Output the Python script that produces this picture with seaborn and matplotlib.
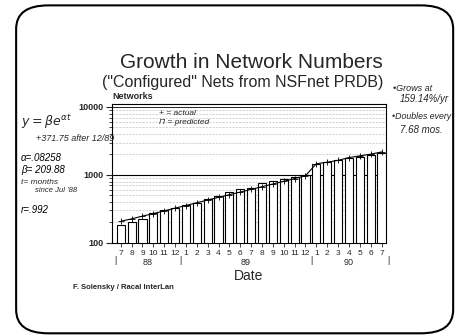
import numpy as np
import pandas as pd
import matplotlib
matplotlib.use("Agg")
import matplotlib.pyplot as plt
import matplotlib.transforms as mtransforms
from matplotlib.patches import FancyBboxPatch
import seaborn as sns

# months Jul '88 .. Jul '90
periods = ["1988-07", "1988-08", "1988-09", "1988-10", "1988-11", "1988-12",
           "1989-01", "1989-02", "1989-03", "1989-04", "1989-05", "1989-06",
           "1989-07", "1989-08", "1989-09", "1989-10", "1989-11", "1989-12",
           "1990-01", "1990-02", "1990-03", "1990-04", "1990-05", "1990-06",
           "1990-07"]
month_labels = ["7", "8", "9", "10", "11", "12", "1", "2", "3", "4", "5", "6",
                "7", "8", "9", "10", "11", "12", "1", "2", "3", "4", "5", "6", "7"]
# predicted (bars) and actual (+ line)
predicted = [186, 206, 226, 278, 300, 325, 356, 385, 449, 486, 552, 613,
             634, 751, 814, 864, 923, 1000, 1460, 1560, 1650, 1750, 1850,
             1980, 2100]
actual = [208, 226, 248, 270, 296, 325, 355, 390, 428, 468, 512, 560,
          612, 672, 735, 805, 885, 975, 1460, 1540, 1640, 1800, 1910,
          2020, 2180]
years = ["88", "89", "90"]
year_centers = [2.5, 11.5, 21]
year_bounds = [-0.5, 5.5, 17.5, 24.6]

df = pd.DataFrame({"period": periods, "predicted": predicted, "actual": actual})

sns.set_style("white")
plt.rcParams["font.family"] = ["Liberation Sans", "DejaVu Sans"]

fig = plt.figure(figsize=(4.61, 3.36), dpi=100)
ax = fig.add_axes([0.243, 0.277, 0.594, 0.413])

sns.barplot(data=df, x="period", y="predicted", color="white", edgecolor="black",
            linewidth=0.8, width=0.75, ax=ax, zorder=3)
sns.pointplot(data=df, x="period", y="actual", color="black", markers="+",
              linewidth=0.8, markersize=5, ax=ax, zorder=4)

ax.set_yscale("log")
ax.set_ylim(100, 11000)
ax.set_xlim(-0.8, 24.4)

ax.yaxis.grid(True, which="minor", linestyle=(0, (4, 2)), color="#b0b0b0", linewidth=0.4)
ax.axhline(1000, color="black", linewidth=0.8, zorder=2)
ax.axhline(10000, color="black", linewidth=0.6, zorder=2)

ax.set_yticks([100, 1000, 10000])
ax.set_yticklabels(["100", "1000", "10000"], fontsize=6.5, fontweight="bold")
ax.tick_params(axis="y", which="major", direction="out", length=4, width=0.8, left=True, pad=2)
ax.tick_params(axis="y", which="minor", direction="out", length=2.5, width=0.6, left=True)
ax.set_xticks(range(len(periods)))
ax.set_xticklabels(month_labels, fontsize=6)
ax.tick_params(axis="x", direction="out", length=3, width=0.6, bottom=True, pad=2)
for s in ax.spines.values():
    s.set_color("black")
    s.set_linewidth(0.8)
ax.set_xlabel("Date", fontsize=10, labelpad=9)
ax.set_ylabel("")

trans = mtransforms.blended_transform_factory(ax.transData, ax.transAxes)
for name, xc in zip(years, year_centers):
    ax.text(xc, -0.14, name, transform=trans, ha="center", va="center", fontsize=6.5)
for xb in year_bounds:
    ax.text(xb, -0.125, "|", transform=trans, ha="center", va="center", fontsize=6.5)

ax.text(0.0, 1.02, "Networks", transform=ax.transAxes, fontsize=6.5,
        fontweight="bold", ha="left", va="bottom")
ax.text(0.17, 0.935, "+ = actual", transform=ax.transAxes, fontsize=6,
        style="italic", va="center")
ax.text(0.17, 0.865, "\u03a0 = predicted", transform=ax.transAxes, fontsize=6,
        style="italic", va="center")

fig.text(0.545, 0.815, "Growth in Network Numbers", ha="center", va="center", fontsize=15)
fig.text(0.527, 0.755, "(\"Configured\" Nets from NSFnet PRDB)", ha="center",
         va="center", fontsize=11.5)
fig.text(0.158, 0.145, "F. Solensky / Racal InterLan", fontsize=5.5,
         fontweight="bold", va="center")

hand = dict(style="italic", fontsize=7, color="black")
fig.text(0.045, 0.625, r"$y = \beta e^{\alpha t}$", fontsize=9)
fig.text(0.078, 0.58, "+371.75 after 12/89", fontsize=6.5, style="italic")
fig.text(0.045, 0.52, "\u03b1=.08258", **hand)
fig.text(0.045, 0.485, "\u03b2= 209.88", **hand)
fig.text(0.045, 0.452, "t= months", fontsize=6, style="italic")
fig.text(0.075, 0.428, "since Jul '88", fontsize=5.5, style="italic")
fig.text(0.045, 0.365, "r=.992", **hand)
fig.text(0.852, 0.73, "\u2022Grows at", fontsize=6.5, style="italic")
fig.text(0.868, 0.695, "159.14%/yr", fontsize=7, style="italic")
fig.text(0.85, 0.645, "\u2022Doubles every", fontsize=6.3, style="italic")
fig.text(0.868, 0.605, "7.68 mos.", fontsize=7, style="italic")

border = FancyBboxPatch((0.035, 0.008), 0.948, 0.976,
                        boxstyle="round,pad=0,rounding_size=0.07",
                        transform=fig.transFigure, fill=False,
                        edgecolor="black", linewidth=1.5)
fig.add_artist(border)

fig.savefig("out.png", dpi=100)
